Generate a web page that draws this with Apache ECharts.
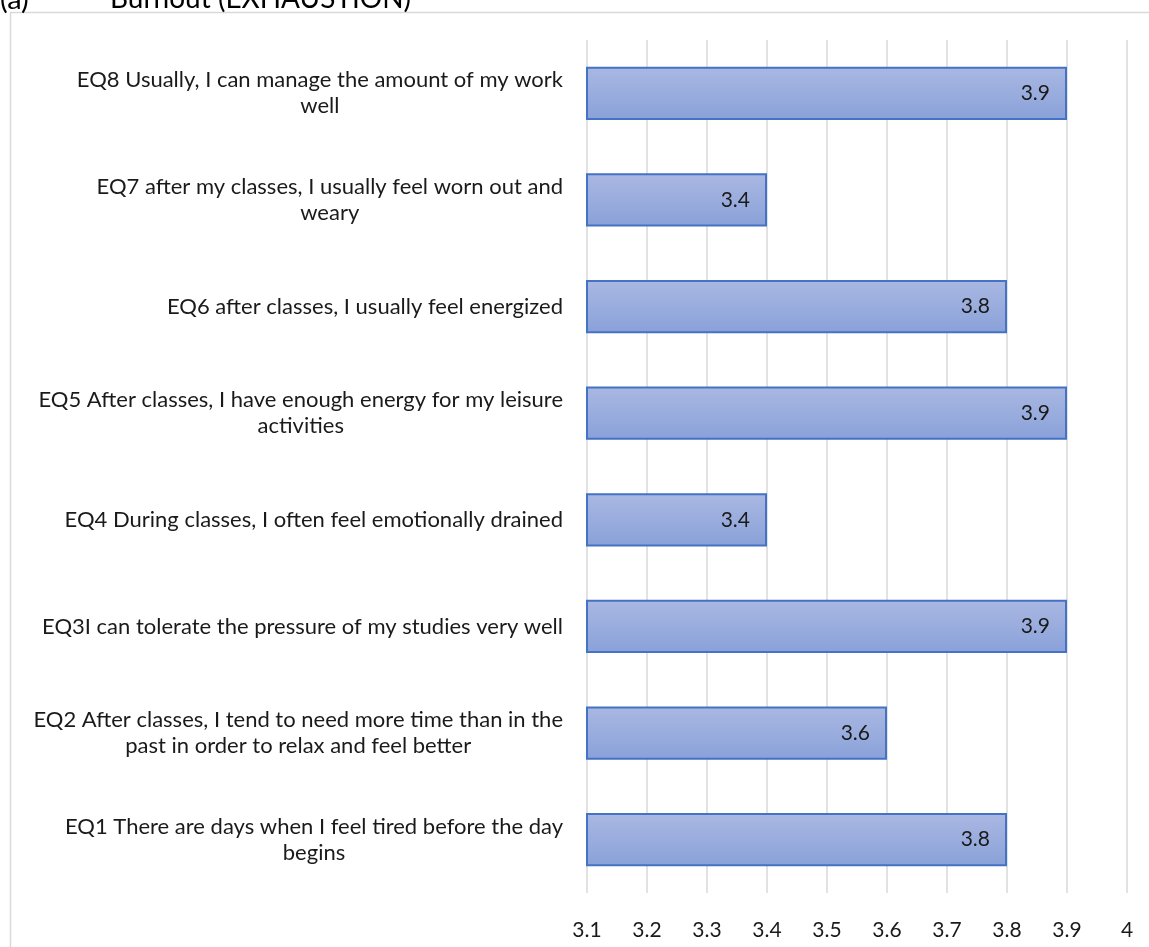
<!DOCTYPE html>
<html>
<head>
<meta charset="utf-8">
<title>Burnout (EXHAUSTION)</title>
<script src="https://cdn.jsdelivr.net/npm/echarts@6/dist/echarts.min.js"></script>
<style>
  html, body { margin: 0; padding: 0; background: #ffffff; }
  #chart { width: 1149px; height: 947px; }
</style>
</head>
<body>
<div id="chart"></div>
<script>
// Survey items, bottom to top, with line breaks where the labels wrap
const categories = [
  'EQ1 There are days when I feel tired before the day\nbegins',
  'EQ2 After classes, I tend to need more time than in the\npast in order to relax and feel better',
  'EQ3I can tolerate the pressure of my studies very well',
  'EQ4 During classes, I often feel emotionally drained',
  'EQ5 After classes, I have enough energy for my leisure\nactivities',
  'EQ6 after classes, I usually feel energized',
  'EQ7 after my classes, I usually feel worn out and\nweary',
  'EQ8 Usually, I can manage the amount of my work\nwell'
];

// Mean score per item
const meanScores = [3.8, 3.6, 3.9, 3.4, 3.9, 3.8, 3.4, 3.9];

// Value axis range and step
const axisMin = 3.1;
const axisMax = 4;
const axisStep = 0.1;

const titlePrefix = '(a)';
const titleText = 'Burnout (EXHAUSTION)';

const FONT = 'Lato, "Open Sans", sans-serif';

const chart = echarts.init(document.getElementById('chart'), null, { renderer: 'canvas' });

chart.setOption({
  backgroundColor: '#ffffff',
  animation: false,
  graphic: [
    {
      type: 'rect',
      silent: true,
      shape: { x: 10.5, y: 12.5, width: 1400, height: 1200 },
      style: { fill: 'none', stroke: '#d9d9d9', lineWidth: 1.5 }
    },
    {
      type: 'text',
      silent: true,
      left: 0, top: -15,
      style: { text: titlePrefix, font: '29px ' + FONT, fill: '#000000' }
    },
    {
      type: 'text',
      silent: true,
      left: 110, top: -15,
      style: { text: titleText, font: '28px ' + FONT, fill: '#000000' }
    }
  ],
  grid: {
    left: 587,
    right: 22,
    top: 40,
    bottom: 54,
    containLabel: false
  },
  xAxis: {
    type: 'value',
    min: axisMin,
    max: axisMax,
    interval: axisStep,
    axisLine: { show: false },
    axisTick: { show: false },
    splitLine: { show: true, lineStyle: { color: '#d9d9d9', width: 1.5 } },
    axisLabel: {
      margin: 27,
      fontSize: 21,
      fontFamily: FONT,
      color: '#1a1a1a',
      formatter: v => String(Math.round(v * 10) / 10)
    }
  },
  yAxis: {
    type: 'category',
    data: categories,
    axisLine: { show: false },
    axisTick: { show: false },
    splitLine: { show: false },
    axisLabel: {
      margin: 24,
      interval: 0,
      formatter: v => v.split('\n').map(line => '{c|' + line + '}').join('\n'),
      rich: {
        c: {
          align: 'center',
          fontSize: 22,
          fontFamily: FONT,
          color: '#1a1a1a',
          lineHeight: 26
        }
      }
    }
  },
  series: [
    {
      type: 'bar',
      data: meanScores,
      barWidth: '50%',
      itemStyle: {
        color: new echarts.graphic.LinearGradient(0, 0, 0, 1, [
          { offset: 0, color: '#aab8e2' },
          { offset: 1, color: '#89a1d9' }
        ]),
        borderColor: '#4472c4',
        borderWidth: 2
      },
      label: {
        show: true,
        position: 'insideRight',
        distance: 17,
        fontSize: 21,
        fontFamily: FONT,
        color: '#1a1a1a',
        formatter: p => String(p.value)
      }
    }
  ]
});
</script>
</body>
</html>
